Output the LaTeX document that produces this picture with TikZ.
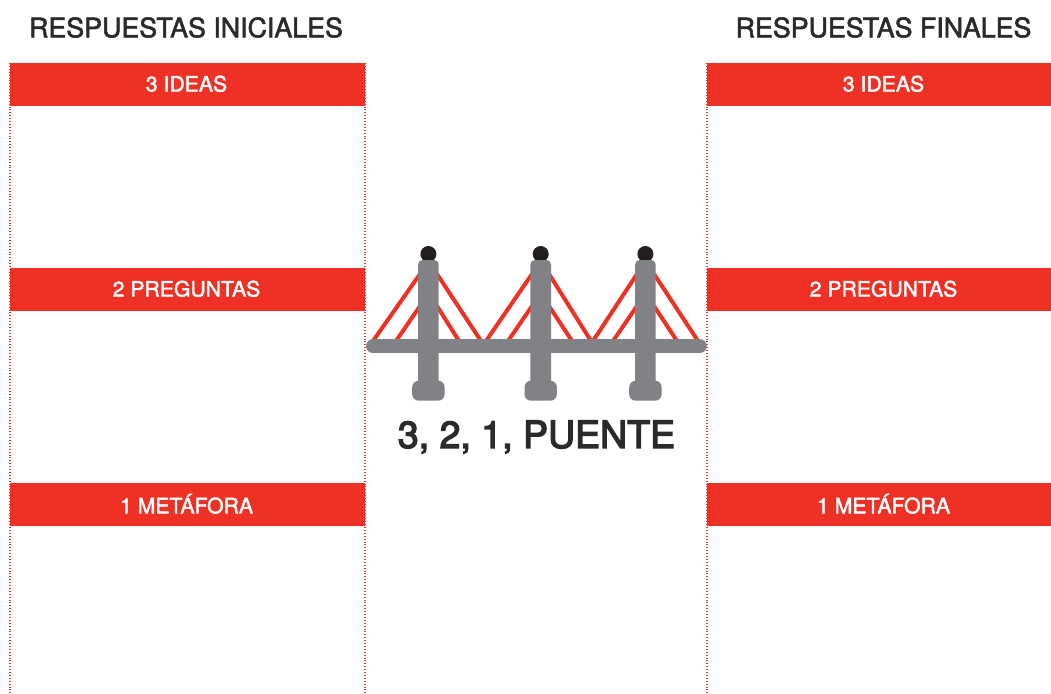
\documentclass[tikz,border=0pt]{standalone}
\usepackage{fontspec}
\setmainfont{TeX Gyre Heros}
\newfontfamily\medfont[FakeBold=2]{TeX Gyre Heros}
\newfontfamily\heavyfont[FakeBold=3.5]{TeX Gyre Heros}
\definecolor{barred}{HTML}{EE3124}
\definecolor{steel}{HTML}{808285}
\definecolor{ballk}{HTML}{231F20}
\definecolor{ink}{HTML}{2A2A2C}
\tikzset{
  x=1pt,y=-1pt,
  bar/.style={fill=barred,draw=none},
  bartext/.style={text=white,font=\medfont\fontsize{21.2}{24}\selectfont,anchor=center,inner sep=0pt},
  heading/.style={text=ink,font=\medfont\fontsize{26.8}{30}\selectfont,anchor=center,inner sep=0pt},
  guide/.style={draw=barred,line width=1.1pt,dash pattern=on 1pt off 1.9pt},
  cable/.style={draw=barred,line width=4pt},
  metal/.style={fill=steel,draw=none},
  ball/.style={fill=ballk,draw=none}
}
\newcommand{\tower}[1]{%
  \fill[ball] (#1,254) circle[radius=8];
  \fill[metal,rounded corners=4.5pt] (#1-10.3,260) rectangle (#1+10.3,390);
  \fill[metal,rounded corners=6.5pt] (#1-16.2,380.7) rectangle (#1+16.2,400.7);
}
\begin{document}
\begin{tikzpicture}
\useasboundingbox (0,0) rectangle (1051,693);
\fill[white] (0,0) rectangle (1051,693);
\draw[guide] (10,63) -- (10,693);
\draw[guide] (365,63) -- (365,693);
\draw[guide] (707,63) -- (707,693);
\foreach \y/\t in {63/3 IDEAS,268/2 PREGUNTAS,483/1 METÁFORA}{
  \fill[bar] (10,\y) rectangle (365,\y+43);
  \fill[bar] (707,\y) rectangle (1051,\y+43);
  \node[bartext] at (186.5,\y+20.8) {\t};
  \node[bartext] at (883.5,\y+20.8) {\t};
}
\node[heading] (ini) at (186,27.5) {RESPUESTAS INICIALES};
\node[heading] (fin) at (883.5,27.5) {RESPUESTAS FINALES};
% cables
\draw[cable] (420,274) -- (373,341) (420,306) -- (396,341);
\draw[cable] (437,274) -- (481,341) (437,306) -- (459,341);
\draw[cable] (532,274) -- (486,341) (532,306) -- (508,341);
\draw[cable] (549,274) -- (591,341) (549,306) -- (572,341);
\draw[cable] (637,274) -- (593,341) (637,306) -- (613,341);
\draw[cable] (654,274) -- (698,341) (654,306) -- (677,341);
% towers and deck
\tower{428.4}
\tower{540.7}
\tower{645.4}
\draw[steel,line width=14.3pt,line cap=round] (373.2,346.2) -- (699.6,346.2);
\node[text=ink,font=\heavyfont\fontsize{37.5}{44}\selectfont,anchor=center,inner sep=0pt] (title) at (536.5,437) {3, 2, 1, PUENTE};
\end{tikzpicture}
\end{document}
